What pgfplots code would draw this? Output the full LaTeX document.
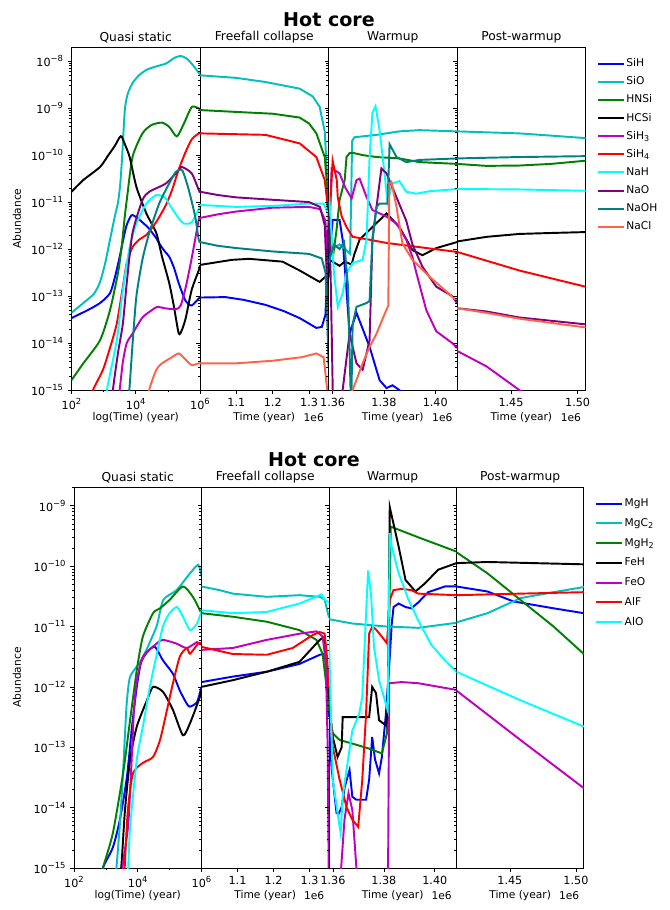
\documentclass[border=0pt]{standalone}
\usepackage{fontspec}
\setmainfont{DejaVu Sans}
\usepackage{pgfplots}
\pgfplotsset{compat=1.18}

% matplotlib colours
\definecolor{mplc}{HTML}{00BFBF}
\definecolor{mplg}{HTML}{008000}
\definecolor{mplm}{HTML}{BF00BF}
\definecolor{aqua}{HTML}{00FFFF}
\definecolor{purp}{HTML}{800080}
\definecolor{tealc}{HTML}{008080}
\definecolor{tomato}{HTML}{FF6347}

\newcommand\pw[1]{10\raisebox{0.85ex}{\fontsize{6.3}{7}\selectfont #1}}
\newcommand\lbl{\fontsize{8}{9}\selectfont}
% minor log ticks (2..9 per decade)
\newcommand\mtTop{2e-15,3e-15,4e-15,5e-15,6e-15,7e-15,8e-15,9e-15,2e-14,3e-14,4e-14,5e-14,6e-14,7e-14,8e-14,9e-14,2e-13,3e-13,4e-13,5e-13,6e-13,7e-13,8e-13,9e-13,2e-12,3e-12,4e-12,5e-12,6e-12,7e-12,8e-12,9e-12,2e-11,3e-11,4e-11,5e-11,6e-11,7e-11,8e-11,9e-11,2e-10,3e-10,4e-10,5e-10,6e-10,7e-10,8e-10,9e-10,2e-9,3e-9,4e-9,5e-9,6e-9,7e-9,8e-9,9e-9}
\newcommand\mtBot{2e-15,3e-15,4e-15,5e-15,6e-15,7e-15,8e-15,9e-15,2e-14,3e-14,4e-14,5e-14,6e-14,7e-14,8e-14,9e-14,2e-13,3e-13,4e-13,5e-13,6e-13,7e-13,8e-13,9e-13,2e-12,3e-12,4e-12,5e-12,6e-12,7e-12,8e-12,9e-12,2e-11,3e-11,4e-11,5e-11,6e-11,7e-11,8e-11,9e-11,2e-10,3e-10,4e-10,5e-10,6e-10,7e-10,8e-10,9e-10,2e-9}

% settings shared by all eight panels
\pgfplotsset{
  scale only axis,
  axis line style={line width=0.6pt},
  tick align=outside, ytick pos=left, xtick pos=left,
  major tick length=2.8pt, minor tick length=1.6pt,
  tick style={black, line width=0.5pt},
  tick label style={font=\fontsize{8.4}{9}\selectfont},
  clip mode=individual,
  title style={font=\fontsize{9.2}{11}\selectfont, yshift=-6.5pt},
  xlabel style={font=\lbl, at={(0.5,0)}, anchor=center, yshift=-20.5pt},
  every axis plot/.append style={line width=1.45pt},
  legend cell align=left,
  legend image code/.code={\draw[#1, line width=1.45pt] (0pt,0pt) -- (19.5pt,0pt);},
}
\newcommand\offs{\node[font=\lbl, anchor=east] at (rel axis cs:1,0) [yshift=-20.5pt] {1e6};}

\begin{document}
\begin{tikzpicture}
\useasboundingbox (0pt,0pt) rectangle (502.5pt,-682.5pt);

% ================= top figure =================
\node[font=\bfseries\fontsize{14.3}{16}\selectfont] at (246.75pt,-15pt) {Hot core};
\node[font=\lbl, rotate=90] at (12.75pt,-163.9pt) {Abundance};

\begin{axis}[at={(53.6pt,-35.25pt)}, anchor=north west, width=96.4pt, height=257.25pt,
  xmode=log, ymode=log, xmin=1e2, xmax=1e6, ymin=1e-15, ymax=2e-8,
  xtick={1e2,1e4,1e6}, minor xtick={1e3,1e5}, xticklabels={\pw{2},\pw{4},\pw{6}},
  ytick={1e-15,1e-14,1e-13,1e-12,1e-11,1e-10,1e-9,1e-8}, minor ytick/.expand once={\mtTop},
  yticklabels={\pw{−15},\pw{−14},\pw{−13},\pw{−12},\pw{−11},\pw{−10},\pw{−9},\pw{−8}},
  xlabel={log(Time) (year)}, title={Quasi static},
  every axis plot/.append style={smooth, tension=0.4}]
\addplot[blue] coordinates {(1e2,3.4e-14)(3.16e2,5.0e-14)(7.76e2,7.1e-14)(1.58e3,1.15e-13)(2.24e3,2.5e-13)(3.16e3,6.8e-13)(5.01e3,2.95e-12)(7.41e3,5.25e-12)(1.12e4,4.57e-12)(1.62e4,3.7e-12)(2.51e4,2.8e-12)(4.37e4,1.7e-12)(5.37e4,1.32e-12)(7.94e4,9.0e-13)(1.1e5,6.9e-13)(1.55e5,4.0e-13)(2.19e5,1.86e-13)(3.55e5,7.9e-14)(5.5e5,6.3e-14)(1e6,9.5e-14)};
\addplot[mplc] coordinates {(1e2,4.4e-14)(2.34e2,7.1e-14)(5.01e2,1.12e-13)(7.76e2,2.0e-13)(1.12e3,5.0e-13)(1.58e3,1.58e-12)(2.24e3,5.0e-12)(2.82e3,1.0e-11)(3.31e3,2.5e-11)(3.80e3,1.0e-10)(4.57e3,9.1e-10)(5.62e3,2.0e-9)(7.94e3,3.4e-9)(1.26e4,5.0e-9)(2.14e4,6.5e-9)(3.98e4,7.6e-9)(8.71e4,8.9e-9)(1.58e5,1.17e-8)(2.51e5,1.29e-8)(3.98e5,1.12e-8)(6.31e5,7.9e-9)(1e6,5.2e-9)};
\addplot[mplg] coordinates {(1e2,1.62e-15)(2.34e2,3.7e-15)(7.76e2,1.15e-14)(1.58e3,5.0e-14)(2.82e3,3.16e-13)(3.63e3,1.1e-12)(4.57e3,5.0e-12)(5.25e3,1.1e-11)(7.94e3,9.1e-11)(1.62e4,2.9e-10)(3.16e4,4.4e-10)(6.61e4,4.9e-10)(1.1e5,4.0e-10)(1.91e5,2.5e-10)(3.16e5,4.7e-10)(5.62e5,1.07e-9)(1e6,9.5e-10)};
\addplot[black] coordinates {(1e2,1.66e-11)(2.34e2,2.95e-11)(7.76e2,5.6e-11)(1.41e3,1.0e-10)(2.24e3,1.58e-10)(3.16e3,2.4e-10)(3.63e3,2.5e-10)(4.47e3,1.78e-10)(6.46e3,9.1e-11)(1.05e4,2.1e-11)(2.14e4,5.75e-12)(4.37e4,2.19e-12)(6.61e4,6.8e-13)(1.1e5,1.9e-13)(1.55e5,5.9e-14)(2.19e5,1.58e-14)(2.82e5,2.0e-14)(3.63e5,3.5e-14)(5.5e5,1.35e-13)(9.12e5,3.5e-13)(1e6,4.5e-13)};
\addplot[mplm] coordinates {(2.51e3,3.2e-16)(3.16e3,1.0e-15)(3.98e3,4.0e-15)(5.25e3,1.0e-14)(7.94e3,1.58e-14)(1.62e4,3.5e-14)(3.16e4,5.0e-14)(4.68e4,5.9e-14)(7.94e4,5.5e-14)(1.78e5,5.25e-14)(2.51e5,6.3e-14)(3.63e5,1.58e-13)(5.62e5,6.8e-13)(9.12e5,4.2e-12)(1e6,4.5e-12)};
\addplot[red] coordinates {(3.16e2,4.0e-16)(4.68e2,1.0e-15)(9.55e2,2.7e-15)(1.58e3,7.9e-15)(2.57e3,2.6e-14)(3.98e3,1.58e-13)(5.25e3,5.0e-13)(7.94e3,1.1e-12)(1.3e4,1.6e-12)(2.14e4,2.0e-12)(4.37e4,3.8e-12)(8.71e4,8.7e-12)(1.35e5,1.82e-11)(2.19e5,5.0e-11)(3.63e5,1.2e-10)(5.62e5,2.2e-10)(9.12e5,2.9e-10)(1e6,2.9e-10)};
\addplot[aqua] coordinates {(1e3,3.2e-16)(1.26e3,1e-15)(2.57e3,1.15e-14)(3.98e3,1.35e-13)(6.46e3,1.1e-12)(1.05e4,3.5e-12)(2.14e4,9.3e-12)(4.37e4,1.41e-11)(7.94e4,1.26e-11)(1.26e5,7.9e-12)(2.19e5,4.5e-12)(3.16e5,3.5e-12)(5.5e5,3.7e-12)(9.12e5,7.1e-12)(1e6,7.9e-12)};
\addplot[purp] coordinates {(1.78e3,3.2e-16)(1.95e3,1e-15)(2.82e3,6.3e-15)(3.98e3,2.6e-14)(5.25e3,1.9e-13)(7.94e3,2.2e-12)(1.62e4,1.1e-11)(2.63e4,1.66e-11)(8.71e4,2.5e-11)(2.19e5,4.8e-11)(2.75e5,5.6e-11)(5.5e5,4.1e-11)(9.12e5,1.82e-11)(1e6,1.58e-11)};
\addplot[tealc] coordinates {(5.5e3,3.2e-16)(6.46e3,1.2e-15)(8.0e3,1.0e-14)(1.05e4,1.0e-13)(1.62e4,6.0e-13)(2.63e4,2.2e-12)(5.37e4,9.3e-12)(1.1e5,2.5e-11)(1.78e5,4.4e-11)(2.82e5,4.7e-11)(4.47e5,1.82e-11)(7.08e5,4.9e-12)(9.12e5,1.58e-12)(1e6,1.41e-12)};
\addplot[tomato] coordinates {(2.24e4,3.2e-16)(2.63e4,1e-15)(4.37e4,2.7e-15)(6.61e4,3.7e-15)(1.35e5,5.0e-15)(2.19e5,6.0e-15)(3.63e5,4.4e-15)(5.5e5,3.4e-15)(9.12e5,3.7e-15)(1e6,3.7e-15)};
\end{axis}

\begin{axis}[at={(150pt,-35.25pt)}, anchor=north west, width=96.4pt, height=257.25pt,
  ymode=log, xmin=1.0, xmax=1.3535, ymin=1e-15, ymax=2e-8,
  xtick={1.1,1.2,1.3}, xticklabels={1.1,1.2,1.3},
  ytick={1e-15,1e-14,1e-13,1e-12,1e-11,1e-10,1e-9,1e-8}, minor ytick/.expand once={\mtTop}, yticklabels={},
  xlabel={Time (year)}, title={Freefall collapse}]
\addplot[blue] coordinates {(1.0,9.3e-14)(1.07,9.5e-14)(1.12,8.3e-14)(1.18,6.5e-14)(1.23,4.8e-14)(1.274,3.4e-14)(1.32,2.1e-14)(1.335,2.2e-14)(1.345,4.0e-14)(1.35,3.2e-13)(1.3535,5.0e-12)};
\addplot[mplc] coordinates {(1.0,5.0e-9)(1.1,4.4e-9)(1.18,3.6e-9)(1.274,2.6e-9)(1.31,1.78e-9)(1.329,1.07e-9)(1.343,3.2e-10)(1.35,3.2e-11)(1.3535,3.2e-12)};
\addplot[mplg] coordinates {(1.0,9.1e-10)(1.1,8.3e-10)(1.2,7.6e-10)(1.274,6.3e-10)(1.30,4.7e-10)(1.32,2.9e-10)(1.343,9.1e-11)(1.35,2.0e-11)(1.3535,3.2e-12)};
\addplot[black] coordinates {(1.0,4.6e-13)(1.088,5.9e-13)(1.135,6.2e-13)(1.227,5.4e-13)(1.274,3.5e-13)(1.329,2.0e-13)(1.343,2.5e-13)(1.3535,2.6e-13)};
\addplot[mplm] coordinates {(1.0,4.6e-12)(1.05,5.5e-12)(1.1,6.3e-12)(1.2,7.6e-12)(1.3,7.9e-12)(1.33,7.1e-12)(1.345,4.0e-12)(1.35,3.2e-13)(1.3535,1e-14)};
\addplot[red] coordinates {(1.0,2.9e-10)(1.18,2.7e-10)(1.274,1.78e-10)(1.32,9.1e-11)(1.343,2.95e-11)(1.35,1e-11)(1.3535,4.0e-12)};
\addplot[aqua] coordinates {(1.0,8.7e-12)(1.1,7.9e-12)(1.2,8.3e-12)(1.3,9.3e-12)(1.34,9.3e-12)(1.35,6.3e-12)(1.3535,3.2e-12)};
\addplot[purp] coordinates {(1.0,1.66e-11)(1.05,1.41e-11)(1.1,1.26e-11)(1.2,1.12e-11)(1.3,1e-11)(1.33,7.9e-12)(1.343,3.2e-12)(1.35,1.58e-13)(1.3535,1e-14)};
\addplot[tealc] coordinates {(1.0,1.41e-12)(1.05,1.17e-12)(1.1,1.05e-12)(1.2,8.9e-13)(1.3,7.9e-13)(1.335,6.3e-13)(1.345,3.2e-13)(1.35,3.2e-14)(1.3535,3.2e-15)};
\addplot[tomato] coordinates {(1.0,3.7e-15)(1.1,3.7e-15)(1.2,4.2e-15)(1.28,5.0e-15)(1.32,6.0e-15)(1.34,5.0e-15)(1.35,1e-15)(1.3535,1e-16)};
\offs
\end{axis}

\begin{axis}[at={(246.4pt,-35.25pt)}, anchor=north west, width=96.4pt, height=257.25pt,
  ymode=log, xmin=1.3584, xmax=1.4085, ymin=1e-15, ymax=2e-8,
  xtick={1.36,1.38,1.40}, xticklabels={1.36,1.38,1.40},
  ytick={1e-15,1e-14,1e-13,1e-12,1e-11,1e-10,1e-9,1e-8}, minor ytick/.expand once={\mtTop}, yticklabels={},
  xlabel={Time (year)}, title={Warmup}]
\addplot[blue] coordinates {(1.3584,4.0e-13)(1.3592,1.26e-12)(1.36,4.2e-12)(1.3627,4.2e-12)(1.3639,1.58e-12)(1.3654,1.35e-13)(1.3666,1.58e-14)(1.3693,4.4e-14)(1.3744,8.3e-15)(1.3783,1.62e-15)(1.381,1.1e-15)(1.3833,1.26e-15)(1.386,1e-15)(1.39,5e-16)(1.40,1.58e-16)(1.4085,1e-16)};
\addplot[mplc] coordinates {(1.3584,1.58e-12)(1.36,1e-12)(1.3627,1.26e-12)(1.365,1e-12)(1.3668,7.9e-13)(1.3672,1e-11)(1.3676,2.0e-10)(1.3685,2.4e-10)(1.3771,2.7e-10)(1.386,3.2e-10)(1.3938,3.4e-10)(1.4085,3.2e-10)};
\addplot[mplg] coordinates {(1.3584,6.3e-12)(1.3592,1.58e-12)(1.3603,8.1e-13)(1.3615,2.5e-12)(1.3627,1.1e-11)(1.3647,2.95e-11)(1.3654,9.1e-11)(1.3666,1.1e-10)(1.3678,1.12e-10)(1.3717,1e-10)(1.3771,9.1e-11)(1.386,8.5e-11)(1.3938,7.1e-11)(1.4085,6.5e-11)};
\addplot[black] coordinates {(1.3584,2.5e-13)(1.3588,5.9e-13)(1.3627,4.4e-13)(1.3647,5.4e-13)(1.3674,4.7e-13)(1.3685,7.9e-13)(1.3705,1.58e-12)(1.3755,2.95e-12)(1.381,5.75e-12)(1.386,2.95e-12)(1.3911,9.5e-13)(1.395,7.4e-13)(1.4004,1.05e-12)(1.4085,1.41e-12)};
\addplot[mplm] coordinates {(1.3584,1e-12)(1.3596,5.2e-11)(1.3627,4.1e-11)(1.365,2.0e-11)(1.3674,1.2e-11)(1.3693,2.95e-11)(1.3705,3.16e-11)(1.3732,1.29e-11)(1.3755,6.8e-12)(1.381,4.9e-12)(1.3849,3.5e-12)(1.3887,1.58e-12)(1.3911,6.8e-13)(1.3926,3.16e-13)(1.3965,5.0e-14)(1.4004,1.78e-14)(1.4066,1e-14)(1.4085,7.9e-15)};
\addplot[red] coordinates {(1.3584,4.0e-12)(1.3588,4.2e-12)(1.36,7.6e-11)(1.3616,2.95e-11)(1.362,1.26e-11)(1.3635,5.0e-12)(1.3654,2.95e-12)(1.3678,1.82e-12)(1.3744,1.58e-12)(1.381,1.35e-12)(1.3938,1.1e-12)(1.4085,8.7e-13)};
\addplot[aqua] coordinates {(1.3584,7.9e-12)(1.3588,1e-11)(1.3605,3.16e-13)(1.362,5.9e-14)(1.3639,1.15e-13)(1.3654,3.1e-13)(1.3678,5.0e-13)(1.3717,5.9e-13)(1.3732,1.58e-12)(1.3744,9.1e-11)(1.3755,7.9e-10)(1.3767,1.1e-9)(1.3783,3.4e-10)(1.3802,4.2e-11)(1.3814,1e-11)(1.3833,2.5e-11)(1.386,2.8e-11)(1.3887,1.66e-11)(1.3926,1.51e-11)(1.3977,1.7e-11)(1.4085,1.9e-11)};
\addplot[purp] coordinates {(1.3584,5.0e-12)(1.3592,3.16e-13)(1.3602,3.2e-16)(1.3635,3.2e-16)(1.3639,1e-15)(1.3666,1.58e-14)(1.3693,3.7e-15)(1.3717,2.7e-15)(1.3744,1.15e-14)(1.3755,1.58e-12)(1.3771,7.9e-12)(1.379,5.2e-11)(1.381,4.1e-11)(1.3849,1.26e-11)(1.3887,4.0e-12)(1.3911,1.26e-12)(1.395,4.2e-13)(1.4004,1.58e-13)(1.4066,1e-13)(1.4085,7.1e-14)};
\addplot[tealc] coordinates {(1.3584,5.0e-13)(1.3605,1.26e-12)(1.3627,1e-12)(1.3645,1.41e-12)(1.366,1.58e-13)(1.3672,3.2e-16)(1.3678,2.5e-14)(1.3693,5.9e-14)(1.3732,7.1e-14)(1.3744,7.9e-14)(1.3755,1.58e-12)(1.3771,7.9e-12)(1.3783,9.3e-12)(1.3814,9.3e-12)(1.3822,1.7e-10)(1.3849,9.1e-11)(1.3887,7.1e-11)(1.3938,7.9e-11)(1.4085,8.5e-11)};
\addplot[tomato] coordinates {(1.3655,3.2e-16)(1.3678,1e-15)(1.3717,3.7e-15)(1.3744,8.3e-15)(1.3771,1.58e-14)(1.3794,3.2e-14)(1.3817,6.3e-14)(1.3821,2.5e-11)(1.3829,2.7e-11)(1.3849,7.9e-12)(1.3872,1.32e-12)(1.3911,5.9e-13)(1.3977,2.6e-13)(1.4085,7.9e-14)};
\offs
\end{axis}

\begin{axis}[at={(342.8pt,-35.25pt)}, anchor=north west, width=96.4pt, height=257.25pt,
  ymode=log, xmin=1.4095, xmax=1.506, ymin=1e-15, ymax=2e-8,
  xtick={1.45,1.50}, xticklabels={1.45,1.50},
  ytick={1e-15,1e-14,1e-13,1e-12,1e-11,1e-10,1e-9,1e-8}, minor ytick/.expand once={\mtTop}, yticklabels={},
  xlabel={Time (year)}, title={Post-warmup},
  legend style={at={(1,1)}, anchor=north west, xshift=8pt, yshift=-7pt,
    draw=none, fill=none, font=\lbl, inner sep=0pt, row sep=3.1pt,
    nodes={inner sep=1.5pt, text height=6pt, text depth=1.5pt}}]
\addplot[mplc, forget plot] coordinates {(1.4095,3.2e-10)(1.4562,2.9e-10)(1.48,2.6e-10)(1.506,2.3e-10)};
\addplot[mplg, forget plot] coordinates {(1.4095,6.5e-11)(1.4315,5.9e-11)(1.4562,6.0e-11)(1.48,6.5e-11)(1.506,7.6e-11)};
\addplot[black, forget plot] coordinates {(1.4095,1.45e-12)(1.4315,1.82e-12)(1.4562,2.1e-12)(1.48,2.2e-12)(1.506,2.3e-12)};
\addplot[mplm, forget plot] coordinates {(1.4095,6.8e-15)(1.4315,3.2e-15)(1.4562,1e-15)(1.48,4.0e-16)(1.506,1.6e-16)};
\addplot[red, forget plot] coordinates {(1.4095,8.7e-13)(1.4562,3.5e-13)(1.506,1.58e-13)};
\addplot[aqua, forget plot] coordinates {(1.4095,1.9e-11)(1.4562,1.86e-11)(1.506,1.74e-11)};
\addplot[purp, forget plot] coordinates {(1.4095,5.5e-14)(1.4315,4.7e-14)(1.4562,3.5e-14)(1.506,2.5e-14)};
\addplot[tealc, forget plot] coordinates {(1.4095,8.5e-11)(1.4562,9.1e-11)(1.506,9.5e-11)};
\addplot[tomato, forget plot] coordinates {(1.4095,5.5e-14)(1.4315,4.4e-14)(1.4562,3.3e-14)(1.506,2.15e-14)};
\offs
\addlegendimage{blue}\addlegendentry{SiH}
\addlegendimage{mplc}\addlegendentry{SiO}
\addlegendimage{mplg}\addlegendentry{HNSi}
\addlegendimage{black}\addlegendentry{HCSi}
\addlegendimage{mplm}\addlegendentry{SiH\textsubscript{3}}
\addlegendimage{red}\addlegendentry{SiH\textsubscript{4}}
\addlegendimage{aqua}\addlegendentry{NaH}
\addlegendimage{purp}\addlegendentry{NaO}
\addlegendimage{tealc}\addlegendentry{NaOH}
\addlegendimage{tomato}\addlegendentry{NaCl}
\end{axis}

% ================= bottom figure =================
\node[font=\bfseries\fontsize{14.3}{16}\selectfont] at (235.5pt,-345pt) {Hot core};
\node[font=\lbl, rotate=90] at (12.75pt,-508.1pt) {Abundance};

\begin{axis}[at={(55.5pt,-365.25pt)}, anchor=north west, width=95.6pt, height=285.75pt,
  xmode=log, ymode=log, xmin=1e2, xmax=1e6, ymin=1e-15, ymax=2.04e-9,
  xtick={1e2,1e4,1e6}, minor xtick={1e3,1e5}, xticklabels={\pw{2},\pw{4},\pw{6}},
  ytick={1e-15,1e-14,1e-13,1e-12,1e-11,1e-10,1e-9}, minor ytick/.expand once={\mtBot},
  yticklabels={\pw{−15},\pw{−14},\pw{−13},\pw{−12},\pw{−11},\pw{−10},\pw{−9}},
  xlabel={log(Time) (year)}, title={Quasi static},
  every axis plot/.append style={smooth, tension=0.4}]
\addplot[blue] coordinates {(5.62e2,5.0e-16)(8.32e2,1.05e-15)(1.66e3,2.2e-15)(2.75e3,6.3e-15)(4.57e3,3.2e-14)(6.61e3,2.2e-13)(9.33e3,1e-12)(1.26e4,2.5e-12)(2.0e4,3.8e-12)(3.47e4,4.6e-12)(6.17e4,2.75e-12)(1.26e5,1.66e-12)(2.09e5,8.7e-13)(3.47e5,5.25e-13)(4.37e5,4.7e-13)(7.24e5,5.6e-13)(1e6,1e-12)};
\addplot[mplc] coordinates {(2.0e3,6.3e-16)(2.82e3,6.3e-15)(3.55e3,5.0e-14)(4.47e3,5.0e-13)(5.62e3,1.41e-12)(9.12e3,2.14e-12)(1.48e4,3.16e-12)(3.89e4,1e-11)(6.31e4,2.75e-11)(1.66e5,4.0e-11)(4.37e5,7.6e-11)(7.94e5,1.05e-10)(1e6,6.8e-11)};
\addplot[mplg] coordinates {(6.31e2,5.0e-16)(8.32e2,1.05e-15)(1.66e3,3.8e-15)(3.47e3,3.7e-14)(5.75e3,2.8e-13)(9.33e3,1.9e-12)(1.45e4,6.8e-12)(3.02e4,1.66e-11)(5.01e4,2.0e-11)(1e5,2.75e-11)(2.63e5,4.6e-11)(5.37e5,3.1e-11)(8.91e5,1.86e-11)(1e6,1.66e-11)};
\addplot[black] coordinates {(2.51e3,3.2e-16)(3.16e3,1.35e-15)(3.98e3,9.1e-15)(5.75e3,6.2e-14)(9.33e3,2.2e-13)(1.95e4,6.0e-13)(3.02e4,1e-12)(6.17e4,8.3e-13)(1.26e5,4.2e-13)(2.63e5,1.58e-13)(4.37e5,2.5e-13)(8.91e5,6.8e-13)(1e6,8.9e-13)};
\addplot[mplm] coordinates {(2.82e3,3.2e-16)(3.47e3,1.26e-15)(5.01e3,5.0e-15)(6.31e3,5.0e-14)(7.59e3,4.0e-13)(9.33e3,1.26e-12)(1.45e4,3.16e-12)(3.98e4,5.25e-12)(6.17e4,6.0e-12)(1.58e5,5.25e-12)(3.47e5,4.4e-12)(7.24e5,5.5e-12)(1e6,5.0e-12)};
\addplot[red] coordinates {(3.55e3,3.2e-16)(3.98e3,1.26e-15)(4.9e3,9.1e-15)(7.08e3,3.7e-14)(1.45e4,5.5e-14)(3.02e4,6.9e-14)(5.01e4,1.32e-13)(8.32e4,4.2e-13)(1.26e5,1.12e-12)(2.09e5,3.16e-12)(3.47e5,4.4e-12)(4.37e5,3.55e-12)(7.94e5,5.25e-12)(1e6,5.25e-12)};
\addplot[aqua] coordinates {(4.17e3,3.2e-16)(5.01e3,1e-15)(5.75e3,4.8e-15)(9.33e3,6.2e-14)(1.45e4,2.2e-13)(2.4e4,1e-12)(3.98e4,3.5e-12)(6.17e4,1e-11)(1e5,1.66e-11)(1.7e5,2.1e-11)(2.63e5,1.45e-11)(4.37e5,8.7e-12)(7.24e5,1.12e-11)(1e6,1.78e-11)};
\end{axis}

\begin{axis}[at={(151.1pt,-365.25pt)}, anchor=north west, width=95.6pt, height=285.75pt,
  ymode=log, xmin=1.0, xmax=1.3535, ymin=1e-15, ymax=2.04e-9,
  xtick={1.1,1.2,1.3}, xticklabels={1.1,1.2,1.3},
  ytick={1e-15,1e-14,1e-13,1e-12,1e-11,1e-10,1e-9}, minor ytick/.expand once={\mtBot}, yticklabels={},
  xlabel={Time (year)}, title={Freefall collapse}]
\addplot[blue] coordinates {(1.0,1.2e-12)(1.087,1.48e-12)(1.181,1.78e-12)(1.272,2.4e-12)(1.328,3.4e-12)(1.3415,3.5e-12)(1.348,1.58e-12)(1.3535,3.2e-13)};
\addplot[mplc] coordinates {(1.0,4.6e-11)(1.05,4.0e-11)(1.087,3.5e-11)(1.181,3.1e-11)(1.272,3.3e-11)(1.328,3.1e-11)(1.3415,2.8e-11)(1.3535,1.41e-11)};
\addplot[mplg] coordinates {(1.0,1.66e-11)(1.087,1.45e-11)(1.181,1.2e-11)(1.272,8.7e-12)(1.319,6.0e-12)(1.336,3.5e-12)(1.345,1.26e-12)(1.3535,4.0e-13)};
\addplot[black] coordinates {(1.0,1e-12)(1.087,1.29e-12)(1.181,1.78e-12)(1.272,2.6e-12)(1.328,6.0e-12)(1.3415,6.8e-12)(1.348,2.5e-12)(1.3535,6.3e-13)};
\addplot[mplm] coordinates {(1.0,4.1e-12)(1.087,4.4e-12)(1.181,6.0e-12)(1.272,7.6e-12)(1.319,8.3e-12)(1.336,6.8e-12)(1.345,2.5e-12)(1.35,1e-13)(1.3535,3.2e-16)};
\addplot[red] coordinates {(1.0,4.6e-12)(1.087,3.5e-12)(1.181,3.4e-12)(1.253,4.4e-12)(1.308,7.2e-12)(1.328,8.1e-12)(1.3415,7.6e-12)(1.348,3.16e-12)(1.3535,1e-12)};
\addplot[aqua] coordinates {(1.0,1.86e-11)(1.087,1.66e-11)(1.181,1.74e-11)(1.272,2.4e-11)(1.333,3.4e-11)(1.3415,2.8e-11)(1.3535,2.5e-11)};
\offs
\end{axis}

\begin{axis}[at={(246.7pt,-365.25pt)}, anchor=north west, width=95.6pt, height=285.75pt,
  ymode=log, xmin=1.3584, xmax=1.4085, ymin=1e-15, ymax=2.04e-9,
  xtick={1.36,1.38,1.40}, xticklabels={1.36,1.38,1.40},
  ytick={1e-15,1e-14,1e-13,1e-12,1e-11,1e-10,1e-9}, minor ytick/.expand once={\mtBot}, yticklabels={},
  xlabel={Time (year)}, title={Warmup}]
\addplot[blue] coordinates {(1.3584,2.5e-13)(1.3595,4.2e-14)(1.3614,8.1e-15)(1.3622,7.9e-15)(1.3634,1.02e-14)(1.3646,2.2e-14)(1.3665,4.2e-14)(1.3676,1.51e-14)(1.3692,1.35e-14)(1.373,1.35e-14)(1.3742,2.9e-14)(1.3754,1.48e-13)(1.3765,6.3e-14)(1.3781,3.7e-14)(1.3792,6.9e-14)(1.3808,3.6e-13)(1.3819,1.66e-12)(1.3831,1.12e-11)(1.3838,2.1e-11)(1.3858,2.4e-11)(1.3885,2.1e-11)(1.3908,2.0e-11)(1.3935,2.5e-11)(1.3974,3.7e-11)(1.404,4.6e-11)(1.4085,4.6e-11)};
\addplot[mplc] coordinates {(1.3584,1.32e-11)(1.3676,1.12e-11)(1.3808,1e-11)(1.3935,9.5e-12)(1.4085,1.15e-11)};
\addplot[mplg] coordinates {(1.3584,4.0e-13)(1.3599,1.7e-13)(1.3626,1.32e-13)(1.3676,1.15e-13)(1.3742,9.5e-14)(1.3792,7.9e-14)(1.3812,1.7e-13)(1.3819,3.16e-12)(1.3827,4.5e-10)(1.3935,3.0e-10)(1.4085,1.74e-10)};
\addplot[black] coordinates {(1.3584,5.0e-13)(1.3599,1.48e-13)(1.3618,6.9e-14)(1.3634,1e-13)(1.3638,3.16e-13)(1.3665,3.16e-13)(1.3715,3.16e-13)(1.3742,3.16e-13)(1.3754,1e-12)(1.3769,7.9e-13)(1.3781,2.8e-13)(1.3808,2.3e-13)(1.3815,4.0e-13)(1.3823,9.5e-10)(1.3858,2.1e-10)(1.3885,5.9e-11)(1.3924,3.8e-11)(1.3962,5.2e-11)(1.4013,8.7e-11)(1.4085,1.12e-10)};
\addplot[mplm] coordinates {(1.3584,1e-16)(1.3628,1e-16)(1.3632,1e-15)(1.3645,6.3e-15)(1.3661,1.74e-14)(1.3676,9.1e-15)(1.3692,1e-15)(1.3697,1e-16)(1.3815,1e-16)(1.3821,1.15e-12)(1.387,1.2e-12)(1.3935,1.15e-12)(1.4085,8.9e-13)};
\addplot[red] coordinates {(1.3584,1e-12)(1.3599,1.02e-13)(1.3626,2.9e-14)(1.3653,1.02e-14)(1.3676,6.3e-15)(1.3699,4.8e-15)(1.3715,2.9e-14)(1.373,3.6e-13)(1.3742,7.6e-12)(1.3754,1e-11)(1.3769,8.9e-12)(1.3792,6.8e-12)(1.3812,5.25e-12)(1.3823,2.75e-11)(1.3838,4.0e-11)(1.387,4.2e-11)(1.3908,4.0e-11)(1.3935,3.5e-11)(1.4085,3.3e-11)};
\addplot[aqua] coordinates {(1.3584,6.3e-12)(1.3599,2.9e-14)(1.3618,8.1e-15)(1.363,3.8e-15)(1.3638,1.51e-14)(1.3653,4.2e-14)(1.3676,1.9e-13)(1.3703,3.6e-13)(1.3715,6.8e-13)(1.373,1.66e-11)(1.3738,8.5e-11)(1.375,3.16e-11)(1.3761,4.6e-12)(1.3781,1.29e-12)(1.38,6.8e-13)(1.3815,4.1e-13)(1.3823,3.5e-10)(1.3831,2.1e-10)(1.3858,7.6e-11)(1.3897,2.75e-11)(1.3935,1.26e-11)(1.3986,5.0e-12)(1.404,2.75e-12)(1.4085,1.78e-12)};
\offs
\end{axis}

\begin{axis}[at={(342.3pt,-365.25pt)}, anchor=north west, width=95.6pt, height=285.75pt,
  ymode=log, xmin=1.4095, xmax=1.506, ymin=1e-15, ymax=2.04e-9,
  xtick={1.45,1.50}, xticklabels={1.45,1.50},
  ytick={1e-15,1e-14,1e-13,1e-12,1e-11,1e-10,1e-9}, minor ytick/.expand once={\mtBot}, yticklabels={},
  xlabel={Time (year)}, title={Post-warmup},
  legend style={at={(1,1)}, anchor=north west, xshift=8pt, yshift=-7pt,
    draw=none, fill=none, font=\lbl, inner sep=0pt, row sep=4.3pt,
    nodes={inner sep=1.5pt, text height=6pt, text depth=1.5pt}}]
\addplot[blue, forget plot] coordinates {(1.4095,4.6e-11)(1.433,3.8e-11)(1.4527,2.6e-11)(1.483,2.0e-11)(1.506,1.66e-11)};
\addplot[mplc, forget plot] coordinates {(1.4095,1.17e-11)(1.433,1.66e-11)(1.458,2.95e-11)(1.483,3.7e-11)(1.506,4.5e-11)};
\addplot[mplg, forget plot] coordinates {(1.4095,1.7e-10)(1.433,7.6e-11)(1.458,2.75e-11)(1.483,1e-11)(1.506,3.5e-12)};
\addplot[black, forget plot] coordinates {(1.4095,1.12e-10)(1.433,1.17e-10)(1.506,1.07e-10)};
\addplot[mplm, forget plot] coordinates {(1.4095,8.7e-13)(1.458,1.32e-13)(1.506,2.1e-14)};
\addplot[red, forget plot] coordinates {(1.4095,3.3e-11)(1.458,3.5e-11)(1.506,3.7e-11)};
\addplot[aqua, forget plot] coordinates {(1.4095,1.78e-12)(1.458,6.0e-13)(1.506,2.2e-13)};
\offs
\addlegendimage{blue}\addlegendentry{MgH}
\addlegendimage{mplc}\addlegendentry{MgC\textsubscript{2}}
\addlegendimage{mplg}\addlegendentry{MgH\textsubscript{2}}
\addlegendimage{black}\addlegendentry{FeH}
\addlegendimage{mplm}\addlegendentry{FeO}
\addlegendimage{red}\addlegendentry{AlF}
\addlegendimage{aqua}\addlegendentry{AlO}
\end{axis}
\end{tikzpicture}
\end{document}
